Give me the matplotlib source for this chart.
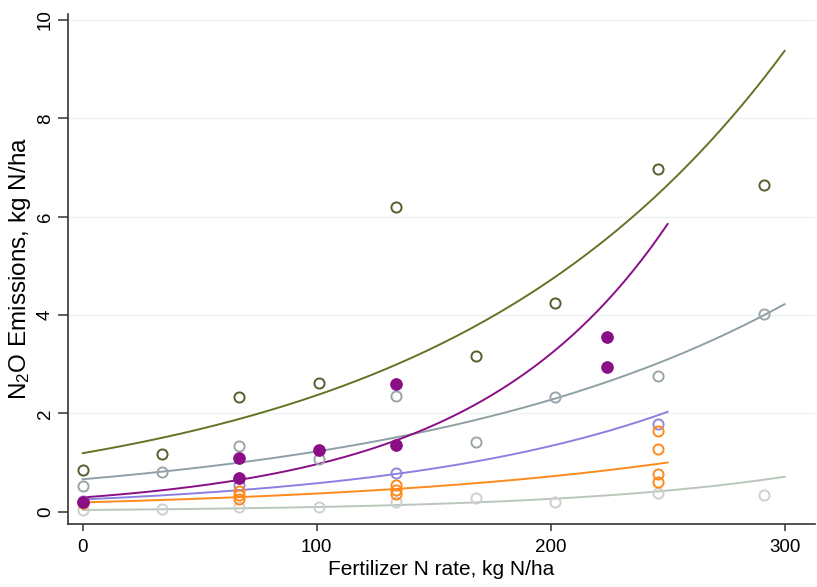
import numpy as np
import matplotlib
matplotlib.use("Agg")
import matplotlib.pyplot as plt

plt.rcParams['font.family'] = ['Liberation Sans', 'DejaVu Sans']
plt.rcParams['mathtext.fontset'] = 'custom'
plt.rcParams['mathtext.rm'] = 'Liberation Sans'
plt.rcParams['mathtext.it'] = 'Liberation Sans:italic'

# ---- data ----
rates = [0, 34, 67, 101, 134, 168, 202, 246, 291]
olive_y = [0.85, 1.17, 2.34, 2.61, 6.19, 3.16, 4.24, 6.97, 6.65]
grayblue_y = [0.52, 0.80, 1.34, 1.08, 2.35, 1.41, 2.34, 2.76, 4.03]
lightgray_y = [0.03, 0.05, 0.09, 0.09, 0.20, 0.28, 0.20, 0.39, 0.34]

purple_x = [0, 67, 67, 101, 134, 134, 224, 224]
purple_y = [0.20, 1.10, 0.68, 1.25, 2.59, 1.36, 3.56, 2.95]

lavender_x = [0, 67, 134, 246]
lavender_y = [0.22, 0.54, 0.79, 1.78]

orange_x = [0, 67, 67, 67, 134, 134, 134, 246, 246, 246, 246]
orange_y = [0.17, 0.43, 0.34, 0.25, 0.54, 0.45, 0.36, 1.64, 1.27, 0.76, 0.61]

# fitted exponential curves: value at N=0, value at end, end N rate
curve_names = ['olive', 'grayblue', 'purple', 'lavender', 'orange', 'lightgray']
curve_start = [1.19, 0.66, 0.29, 0.25, 0.19, 0.035]
curve_end = [9.37, 4.22, 5.85, 2.03, 1.00, 0.71]
curve_xmax = [300, 300, 250, 250, 250, 300]

colors = {
    'olive': '#627426',
    'grayblue': '#8ea0a4',
    'purple': '#8a0f86',
    'lavender': '#8c7fe0',
    'orange': '#ff8a1c',
    'lightgray': '#b9c6b9',
}
marker_edge = {
    'olive': '#56602e',
    'grayblue': '#9aa6aa',
    'lightgray': '#cfcfcf',
    'lavender': '#9088d8',
    'orange': '#ff8a1c',
}

fig = plt.figure(figsize=(8.17, 5.87), dpi=100)
ax = fig.add_axes([68 / 817, 63 / 587, (815 - 68) / 817, (524 - 14) / 587])

ax.set_xlim(-6.3, 313)
ax.set_ylim(-0.25, 10.12)

for yv in [2, 4, 6, 8, 10]:
    ax.axhline(yv, color='#eef1f1', lw=1.0, zorder=0)

# curves
for name, a, e, xm in zip(curve_names, curve_start, curve_end, curve_xmax):
    b = np.log(e / a) / xm
    xs = np.linspace(0, xm, 200)
    ax.plot(xs, a * np.exp(b * xs), color=colors[name], lw=1.4, zorder=2)

ms_open = 7.3
mew = 1.4
ax.plot(rates, lightgray_y, 'o', ms=ms_open, mfc='none', mec=marker_edge['lightgray'], mew=mew, zorder=3)
ax.plot(rates, grayblue_y, 'o', ms=ms_open, mfc='none', mec=marker_edge['grayblue'], mew=mew, zorder=3)
ax.plot(rates, olive_y, 'o', ms=ms_open, mfc='none', mec=marker_edge['olive'], mew=mew, zorder=3)
ax.plot(lavender_x, lavender_y, 'o', ms=ms_open, mfc='none', mec=marker_edge['lavender'], mew=mew, zorder=3)
ax.plot(orange_x, orange_y, 'o', ms=ms_open, mfc='none', mec=marker_edge['orange'], mew=mew, zorder=3)
ax.plot(purple_x, purple_y, 'o', ms=8.3, mfc=colors['purple'], mec=colors['purple'], mew=0.8, zorder=4)

ax.spines['top'].set_visible(False)
ax.spines['right'].set_visible(False)
for s in ['left', 'bottom']:
    ax.spines[s].set_color('#333333')
    ax.spines[s].set_linewidth(1.2)

ax.set_xticks([0, 100, 200, 300])
ax.set_yticks([0, 2, 4, 6, 8, 10])
ax.tick_params(axis='x', length=5, width=1.1, color='#333333', labelsize=13.5, pad=6)
ax.tick_params(axis='y', length=7, width=1.1, color='#333333', labelsize=13.5, pad=3)
for lab in ax.get_yticklabels():
    lab.set_rotation(90)
    lab.set_va('center')

ax.set_xlabel('Fertilizer N rate, kg N/ha', fontsize=15, labelpad=3)
ax.set_ylabel('N$_2$O Emissions, kg N/ha', fontsize=17.5, labelpad=3)

fig.savefig('out.png', dpi=100)
